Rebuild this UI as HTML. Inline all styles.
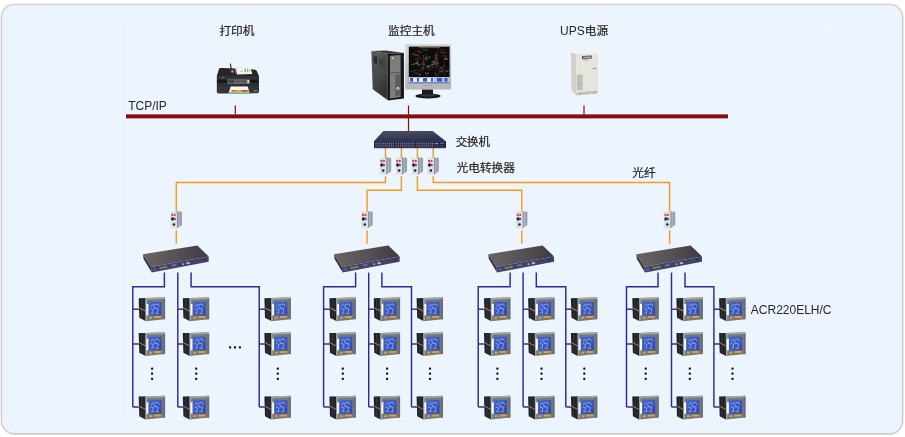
<!DOCTYPE html>
<html lang="zh-CN">
<head>
<meta charset="utf-8">
<title>电力监控系统网络结构图</title>
<style>
html,body{margin:0;padding:0;background:#fff;}
body{width:905px;height:437px;overflow:hidden;}
svg{display:block;}
text{font-family:"Liberation Sans","Noto Sans CJK SC",sans-serif;font-size:12px;fill:#2b2626;}
.c{font-size:11.7px;stroke:#2b2626;stroke-width:0.22px;}
</style>
</head>
<body>
<svg width="905" height="437" viewBox="0 0 905 437">
<defs>
<filter id="soft" x="-5%" y="-5%" width="110%" height="110%"><feGaussianBlur stdDeviation="0.55"/></filter>
<linearGradient id="gSide" x1="0" y1="0" x2="1" y2="0"><stop offset="0" stop-color="#737a92"/><stop offset="0.4" stop-color="#b2b7c6"/><stop offset="0.7" stop-color="#9299ac"/><stop offset="1" stop-color="#a8adbc"/></linearGradient>
<linearGradient id="gScreen" x1="0" y1="0" x2="1" y2="1"><stop offset="0" stop-color="#4666cc"/><stop offset="1" stop-color="#2e48ae"/></linearGradient>
<linearGradient id="gHubTop" x1="0" y1="0" x2="1" y2="0"><stop offset="0" stop-color="#696565"/><stop offset="0.55" stop-color="#545054"/><stop offset="1" stop-color="#3e3a40"/></linearGradient>
<linearGradient id="gSwTop" x1="0" y1="0" x2="0.3" y2="1"><stop offset="0" stop-color="#4e5266"/><stop offset="1" stop-color="#2e3248"/></linearGradient>
<linearGradient id="gTower" x1="0" y1="0" x2="0.4" y2="1"><stop offset="0" stop-color="#5a5c5c"/><stop offset="0.6" stop-color="#474949"/><stop offset="1" stop-color="#333535"/></linearGradient>
<linearGradient id="gMon" x1="0" y1="0" x2="0" y2="1"><stop offset="0" stop-color="#d8d9dc"/><stop offset="1" stop-color="#b4b6ba"/></linearGradient>

<g id="meter">
 <polygon points="0.1,1.7 7.2,1.5 7.2,24.6 0.7,21.3" fill="#1f2326"/>
 <polygon points="2.4,1.7 3.6,1.7 3.6,22.8 2.4,22.2" fill="#33373b"/>
 <polygon points="4.9,1.6 5.8,1.6 5.8,23.9 4.9,23.5" fill="#2f3337"/>
 <polygon points="0.1,10.7 7.2,14.1 7.2,15.2 0.1,11.7" fill="#a3865a"/>
 <polygon points="6.7,1.5 26.5,0.8 26.5,22.7 7,24.7" fill="#767a7f"/>
 <polygon points="6.9,1.6 26.3,0.9 26.3,2.5 6.9,3.2" fill="#a2a6aa"/>
 <polygon points="6.9,3 8.4,3 8.4,23.6 7.1,24.4" fill="#a4a8ac"/>
 <polygon points="24.6,2.6 26.4,2.5 26.4,22.6 24.6,22.8" fill="#696d72"/>
 <rect x="7.8" y="7.4" width="2.1" height="11.4" fill="#f6f8fa"/>
 <rect x="10.1" y="5.3" width="13" height="13.6" fill="url(#gScreen)"/>
 <path d="M12.4 9.5l2-1.6 1.6 1.4M16.6 8l2.8-.6 1.2 2.2M12.2 12.2l2.6.8-.6 2.6M16.2 11.4l3.6 1-1 3.4M12.6 16.6h2.2M17 16.8l3 .2M15.2 10.2l1.6 2.2" fill="none" stroke="#9db4f4" stroke-width="0.8" stroke-linecap="round"/>
 <polygon points="10.8,20.5 13.4,20.3 13.4,22.1 10.8,22.3" fill="#f0a21e"/>
 <polygon points="15.8,19.8 22.5,19.5 22.5,21.3 15.8,21.6" fill="#f0a21e"/>
</g>

<g id="conv">
 <polygon points="5.8,0.3 10.9,0.9 10.9,14.2 5.8,17.7" fill="url(#gSide)"/>
 <rect x="-0.6" y="0.8" width="6.5" height="16.6" fill="#dedee6"/>
 <rect x="0.2" y="3" width="4.2" height="2" fill="#cf3346"/>
 <rect x="2" y="3" width="0.8" height="2" fill="#f0d8dc"/>
 <circle cx="1.6" cy="8" r="1.7" fill="#1c1c20"/>
 <rect x="2" y="7" width="2.6" height="2" fill="#55555c"/>
 <circle cx="2.9" cy="13.6" r="1.3" fill="#2c2c32"/>
</g>

<g id="hub">
 <polygon points="-0.3,10.1 54.1,1.2 65.4,12.3 7.6,22.8" fill="url(#gHubTop)"/>
 <polygon points="7.6,22.8 65.4,12.3 65.4,17.5 8.4,28.4" fill="#434368"/>
 <polygon points="-0.3,10.1 7.6,22.8 8.4,28.4 0.2,14.6" fill="#34323e"/>
 <rect x="9.6" y="24.6" width="3" height="2" fill="#5264b4" transform="rotate(-10.5 9.6 24.6)"/>
 <rect x="16" y="23" width="8" height="2" fill="#807d52" transform="rotate(-10.5 16 23)"/>
 <rect x="28.5" y="20.6" width="4.5" height="1.8" fill="#6b72b2" transform="rotate(-10.5 28.5 20.6)"/>
 <rect x="39" y="19.2" width="1.5" height="1.6" fill="#bcc0de" transform="rotate(-10.5 39 19.2)"/>
 <rect x="43" y="18.4" width="3.4" height="1.7" fill="#b4b8d8" transform="rotate(-10.5 43 18.4)"/>
 <circle cx="60.8" cy="15.4" r="1.3" fill="#30304c"/>
</g>
</defs>

<rect x="1.4" y="4.4" width="901.3" height="429.3" rx="13" ry="13" fill="#ebf3fd" stroke="#cdcdcd" stroke-width="1.4"/>
<path d="M14 434.3H889.5a13 13 0 0 0 13-13V20" fill="none" stroke="#c6c6c6" stroke-width="1" opacity="0.5"/>
<rect x="126.5" y="24.5" width="704" height="395" fill="#ecf4fd" stroke="#f1f7fe" stroke-width="1"/>
<g id="bus">
<rect x="126" y="114.5" width="602" height="3.9" fill="#7e1014"/>
<rect x="126" y="114.1" width="602" height="0.9" fill="#b0503c" opacity="0.75"/>
<path d="M235.3 105.6V114.5M408.5 105.6V131.5M584 105.6V114.5" stroke="#7e1014" stroke-width="1.2" fill="none"/>
</g>
<g fill="none" stroke="#f69c12" stroke-width="1.4" stroke-linejoin="miter">
<path d="M385.5 147.5V158"/>
<path d="M401.4 147.5V158"/>
<path d="M417.4 147.5V158"/>
<path d="M433.2 147.5V158"/>
<path d="M385.5 176.2V182.5H176.3V211.8"/>
<path d="M401.4 176.2V190.3H367.1V211.8"/>
<path d="M417.4 176.2V190.3H521.8V211.8"/>
<path d="M433.2 176.2V182.5H669.6V211.8"/>
<path d="M176.3 230.2V243.8"/>
<path d="M367.1 230.2V243.8"/>
<path d="M521.8 230.2V243.8"/>
<path d="M669.6 230.2V243.8"/>
</g>
<g fill="none" stroke="#2f2996" stroke-width="1.45" stroke-linejoin="miter">
<path d="M164.4 272.6V286.8H132.8V407"/>
<path d="M177.8 272.6V407"/>
<path d="M191.1 272.6V286.8H259.2V407"/>
<path d="M132.8 309.2H139.3"/>
<path d="M132.8 344H139.3"/>
<path d="M132.8 407H139.3"/>
<path d="M177.8 309.2H184.3"/>
<path d="M177.8 344H184.3"/>
<path d="M177.8 407H184.3"/>
<path d="M259.2 309.2H265.7"/>
<path d="M259.2 344H265.7"/>
<path d="M259.2 407H265.7"/>
<path d="M355.6 272.6V286.8H323.6V407"/>
<path d="M368.7 272.6V407"/>
<path d="M381.9 272.6V286.8H411.5V407"/>
<path d="M323.6 309.2H330.1"/>
<path d="M323.6 344H330.1"/>
<path d="M323.6 407H330.1"/>
<path d="M368.7 309.2H375.2"/>
<path d="M368.7 344H375.2"/>
<path d="M368.7 407H375.2"/>
<path d="M411.5 309.2H418"/>
<path d="M411.5 344H418"/>
<path d="M411.5 407H418"/>
<path d="M510.1 272.6V286.8H478.2V407"/>
<path d="M523.1 272.6V407"/>
<path d="M536.3 272.6V286.8H565.8V407"/>
<path d="M478.2 309.2H484.7"/>
<path d="M478.2 344H484.7"/>
<path d="M478.2 407H484.7"/>
<path d="M523.1 309.2H529.6"/>
<path d="M523.1 344H529.6"/>
<path d="M523.1 407H529.6"/>
<path d="M565.8 309.2H572.3"/>
<path d="M565.8 344H572.3"/>
<path d="M565.8 407H572.3"/>
<path d="M658 272.6V286.8H626.5V407"/>
<path d="M671.5 272.6V407"/>
<path d="M685 272.6V286.8H713.9V407"/>
<path d="M626.5 309.2H633"/>
<path d="M626.5 344H633"/>
<path d="M626.5 407H633"/>
<path d="M671.5 309.2H678"/>
<path d="M671.5 344H678"/>
<path d="M671.5 407H678"/>
<path d="M713.9 309.2H720.4"/>
<path d="M713.9 344H720.4"/>
<path d="M713.9 407H720.4"/>
</g>
<g filter="url(#soft)">
<use href="#meter" x="138.6" y="296.5"/>
<use href="#meter" x="138.6" y="331.4"/>
<use href="#meter" x="138.6" y="394.9"/>
<use href="#meter" x="182.7" y="296.5"/>
<use href="#meter" x="182.7" y="331.4"/>
<use href="#meter" x="182.7" y="394.9"/>
<use href="#meter" x="264.3" y="296.5"/>
<use href="#meter" x="264.3" y="331.4"/>
<use href="#meter" x="264.3" y="394.9"/>
<use href="#meter" x="329.3" y="296.5"/>
<use href="#meter" x="329.3" y="331.4"/>
<use href="#meter" x="329.3" y="394.9"/>
<use href="#meter" x="373.6" y="296.5"/>
<use href="#meter" x="373.6" y="331.4"/>
<use href="#meter" x="373.6" y="394.9"/>
<use href="#meter" x="416.5" y="296.5"/>
<use href="#meter" x="416.5" y="331.4"/>
<use href="#meter" x="416.5" y="394.9"/>
<use href="#meter" x="483.9" y="296.5"/>
<use href="#meter" x="483.9" y="331.4"/>
<use href="#meter" x="483.9" y="394.9"/>
<use href="#meter" x="528" y="296.5"/>
<use href="#meter" x="528" y="331.4"/>
<use href="#meter" x="528" y="394.9"/>
<use href="#meter" x="570.8" y="296.5"/>
<use href="#meter" x="570.8" y="331.4"/>
<use href="#meter" x="570.8" y="394.9"/>
<use href="#meter" x="632.2" y="296.5"/>
<use href="#meter" x="632.2" y="331.4"/>
<use href="#meter" x="632.2" y="394.9"/>
<use href="#meter" x="676.3" y="296.5"/>
<use href="#meter" x="676.3" y="331.4"/>
<use href="#meter" x="676.3" y="394.9"/>
<use href="#meter" x="719" y="296.5"/>
<use href="#meter" x="719" y="331.4"/>
<use href="#meter" x="719" y="394.9"/>
<use href="#conv" x="380.3" y="157"/>
<use href="#conv" x="396.2" y="157"/>
<use href="#conv" x="412.2" y="157"/>
<use href="#conv" x="428" y="157"/>
<use href="#conv" x="171.1" y="210.9"/>
<use href="#conv" x="361.9" y="210.9"/>
<use href="#conv" x="516.6" y="210.9"/>
<use href="#conv" x="664.4" y="210.9"/>
<use href="#hub" x="143.3" y="244.2"/>
<use href="#hub" x="334.3" y="244.2"/>
<use href="#hub" x="488.6" y="244.2"/>
<use href="#hub" x="636.6" y="244.2"/>
<g id="switch">
 <polygon points="383.3,131.1 432.8,131.1 445.8,141.2 374,141.2" fill="url(#gSwTop)"/>
 <rect x="374" y="141" width="72" height="7.1" fill="#1e2234"/>
 <rect x="374" y="141" width="72" height="1.1" fill="#2a3784"/>
 <rect x="374" y="147.3" width="72" height="0.8" fill="#2e3c8c"/>
 <g fill="#777b86">

<rect x="375.4" y="142.7" width="1.2" height="1.8"/><rect x="375.4" y="145" width="1.2" height="1.7" opacity="0.8"/>
<rect x="377.35" y="142.7" width="1.2" height="1.8"/><rect x="377.35" y="145" width="1.2" height="1.7" opacity="0.8"/>
<rect x="379.3" y="142.7" width="1.2" height="1.8"/><rect x="379.3" y="145" width="1.2" height="1.7" opacity="0.8"/>
<rect x="381.25" y="142.7" width="1.2" height="1.8"/><rect x="381.25" y="145" width="1.2" height="1.7" opacity="0.8"/>
<rect x="383.2" y="142.7" width="1.2" height="1.8"/><rect x="383.2" y="145" width="1.2" height="1.7" opacity="0.8"/>
<rect x="385.15" y="142.7" width="1.2" height="1.8"/><rect x="385.15" y="145" width="1.2" height="1.7" opacity="0.8"/>
<rect x="387.1" y="142.7" width="1.2" height="1.8"/><rect x="387.1" y="145" width="1.2" height="1.7" opacity="0.8"/>
<rect x="389.05" y="142.7" width="1.2" height="1.8"/><rect x="389.05" y="145" width="1.2" height="1.7" opacity="0.8"/>
<rect x="391" y="142.7" width="1.2" height="1.8"/><rect x="391" y="145" width="1.2" height="1.7" opacity="0.8"/>
<rect x="392.95" y="142.7" width="1.2" height="1.8"/><rect x="392.95" y="145" width="1.2" height="1.7" opacity="0.8"/>
<rect x="395.9" y="142.7" width="1.2" height="1.8"/><rect x="395.9" y="145" width="1.2" height="1.7" opacity="0.8"/>
<rect x="397.85" y="142.7" width="1.2" height="1.8"/><rect x="397.85" y="145" width="1.2" height="1.7" opacity="0.8"/>
<rect x="399.8" y="142.7" width="1.2" height="1.8"/><rect x="399.8" y="145" width="1.2" height="1.7" opacity="0.8"/>
<rect x="401.75" y="142.7" width="1.2" height="1.8"/><rect x="401.75" y="145" width="1.2" height="1.7" opacity="0.8"/>
<rect x="403.7" y="142.7" width="1.2" height="1.8"/><rect x="403.7" y="145" width="1.2" height="1.7" opacity="0.8"/>
<rect x="405.65" y="142.7" width="1.2" height="1.8"/><rect x="405.65" y="145" width="1.2" height="1.7" opacity="0.8"/>
<rect x="407.6" y="142.7" width="1.2" height="1.8"/><rect x="407.6" y="145" width="1.2" height="1.7" opacity="0.8"/>
<rect x="409.55" y="142.7" width="1.2" height="1.8"/><rect x="409.55" y="145" width="1.2" height="1.7" opacity="0.8"/>
<rect x="411.5" y="142.7" width="1.2" height="1.8"/><rect x="411.5" y="145" width="1.2" height="1.7" opacity="0.8"/>
<rect x="413.45" y="142.7" width="1.2" height="1.8"/><rect x="413.45" y="145" width="1.2" height="1.7" opacity="0.8"/>
<rect x="416.4" y="142.7" width="1.2" height="1.8"/><rect x="416.4" y="145" width="1.2" height="1.7" opacity="0.8"/>
<rect x="418.35" y="142.7" width="1.2" height="1.8"/><rect x="418.35" y="145" width="1.2" height="1.7" opacity="0.8"/>
<rect x="420.3" y="142.7" width="1.2" height="1.8"/><rect x="420.3" y="145" width="1.2" height="1.7" opacity="0.8"/>
<rect x="422.25" y="142.7" width="1.2" height="1.8"/><rect x="422.25" y="145" width="1.2" height="1.7" opacity="0.8"/>
<rect x="424.2" y="142.7" width="1.2" height="1.8"/><rect x="424.2" y="145" width="1.2" height="1.7" opacity="0.8"/>
<rect x="426.15" y="142.7" width="1.2" height="1.8"/><rect x="426.15" y="145" width="1.2" height="1.7" opacity="0.8"/>
<rect x="428.1" y="142.7" width="1.2" height="1.8"/><rect x="428.1" y="145" width="1.2" height="1.7" opacity="0.8"/>
<rect x="430.05" y="142.7" width="1.2" height="1.8"/><rect x="430.05" y="145" width="1.2" height="1.7" opacity="0.8"/>
<rect x="432" y="142.7" width="1.2" height="1.8"/><rect x="432" y="145" width="1.2" height="1.7" opacity="0.8"/>
</g><rect x="434.5" y="143" width="4" height="1.2" fill="#8a90b0"/><rect x="440" y="142.8" width="4.6" height="1.3" fill="#5064c0"/><rect x="434.5" y="145.2" width="10" height="1.2" fill="#3a3f58"/>
</g>
<g id="printer">
 <polygon points="229.8,63.6 230.8,63.4 232,69.6 230.8,69.8" fill="#242426"/>
 <path d="M220.4 68 L254.6 69.8 Q256 70 256.6 71 L259 76.6 L259 91.6 Q259 93.2 257.2 93.3 L218.8 93.6 Q216.8 93.6 216.8 91.8 L216.8 76.6 L219 69.4 Q219.4 68 220.4 68Z" fill="#333436"/>
 <path d="M220.4 68 L254.6 69.8 Q256 70 256.6 71 L259 76.6 L216.8 76.6 L219 69.4 Q219.4 68 220.4 68Z" fill="#28282a"/>
 <rect x="217.2" y="79.6" width="9.6" height="3.4" fill="#161617"/>
 <rect x="250.4" y="79.6" width="7.8" height="3.4" fill="#161617"/>
 <rect x="217" y="84.5" width="41.8" height="1" fill="#29292b"/>
 <polygon points="235,68.8 250.3,67.8 252.4,73.9 237.2,74.4" fill="#f3f4f1"/>
 <rect x="244.4" y="68.6" width="1.5" height="3.8" fill="#74b852"/>
 <rect x="247" y="68.4" width="1.2" height="3.6" fill="#8cc468"/>
 <rect x="249" y="69.6" width="0.9" height="2.4" fill="#9ccc7c"/>
 <rect x="235.2" y="69.6" width="1.1" height="4.2" fill="#4a62b8"/>
 <rect x="240.4" y="70.6" width="2" height="1.2" fill="#a8c890"/>
 <circle cx="232.4" cy="71.4" r="1.7" fill="#8a6a24"/>
 <circle cx="232.4" cy="71.4" r="0.7" fill="#d8b040"/>
 <rect x="227.7" y="79.3" width="22.1" height="4.6" fill="#6c7074"/>
 <rect x="228.6" y="80.2" width="5.6" height="2.6" fill="#3a3d42"/>
 <rect x="235.6" y="80.4" width="11" height="2.2" fill="#50545a"/>
 <rect x="247.4" y="80" width="1.6" height="3" fill="#d8dadc"/>
 <polygon points="230.7,86.5 247.7,86.5 249.8,93.5 228.5,93.5" fill="#f7f7f5"/>
 <polygon points="231.7,90 248.4,90 248.9,91.8 231.2,91.8" fill="#d86a26"/>
 <rect x="236.5" y="90" width="4.5" height="1.8" fill="#e8b432"/>
 <rect x="243.6" y="90" width="2.4" height="1.8" fill="#c83c28"/>
 <polygon points="228.8,92.6 249.6,92.6 249.8,93.6 228.5,93.6" fill="#3a9050"/>
 <rect x="253.6" y="90.5" width="3.6" height="0.9" fill="#a4aac0"/>
 <rect x="221.6" y="76.9" width="2.6" height="0.8" fill="#8a8c90"/>
</g>
<g id="host">
 <polygon points="371.3,51.1 386,50.4 403.9,52.9 387.9,54" fill="#3c3c3d"/>
 <polygon points="371.3,51.1 387.9,54 387.9,100.2 372.7,89.2" fill="url(#gTower)"/>
 <polygon points="373.6,56 377,56.8 377,64 373.6,63" fill="#2a2b2c"/>
 <polygon points="379,58 385,59.2 385,68 379,66.6" fill="#3e4040" opacity="0.8"/>
 <polygon points="387.9,54 403.9,52.9 403.9,98.5 387.9,100.4" fill="#121214"/>
 <polygon points="389.9,55.7 400.6,55 400.6,97.1 389.9,98.4" fill="#7d7e7b"/>
 <polygon points="389.9,72.6 400.6,72 400.6,73 389.9,73.6" fill="#55564f"/>
 <polygon points="395.3,74.8 399.9,74.6 399.9,95.6 395.3,96" fill="#5b5c58"/>
 <circle cx="397.9" cy="88.6" r="1.5" fill="#e3ecfa"/>
 <circle cx="397.9" cy="88.9" r="0.8" fill="#4a78c8"/>
 <circle cx="392.6" cy="58" r="0.9" fill="#d6d6d2"/>
 <rect x="403" y="56.6" width="1" height="1.6" fill="#b03030"/>
 <rect x="405.2" y="44" width="46" height="45.6" rx="1" fill="url(#gMon)"/>
 <rect x="408.8" y="46.6" width="40.8" height="36.6" fill="#0b0b0e"/>
 <rect x="408.8" y="77.2" width="40.8" height="6" fill="#e6ebf6"/><rect x="434" y="77.2" width="15.6" height="4.8" fill="#b4c0e4"/>
 <rect x="408.8" y="82" width="40.8" height="1.2" fill="#6a86d4"/>
 <g fill="#3a5ac0"><rect x="410" y="78" width="3" height="3.6"/><rect x="417" y="78" width="2" height="3.6"/><rect x="423" y="78" width="4" height="3.6"/><rect x="431" y="78" width="2" height="3.6"/><rect x="437" y="78" width="5" height="3.6"/><rect x="444.5" y="78" width="3" height="3.6"/></g>
 <g stroke-width="0.55" fill="none" opacity="0.85">
  <path d="M423.2 50.1h1.3M444.1 65.5h1.4M430.3 65.2h3.0M437.5 64.0v2.6M416.0 59.3h1.7M426.4 72.0v3.9M413.7 63.8h4.3M412.5 54.1h3.3M435.1 55.6h1.8M427.3 66.1v1.8M442.8 69.6v3.2M438.8 68.1h3.7M441.4 69.5h3.8M418.9 56.0v3.3M437.4 73.1h3.2M434.2 60.1h2.2M442.3 52.7h3.4M424.3 61.7v4.4M414.1 73.3h4.1M419.6 49.6v2.4M420.0 70.1h4.2M436.4 63.4h2.8" stroke="#d43a3a"/>
  <path d="M425.1 55.0h1.4M411.8 54.5h1.6M415.2 51.7h3.9M415.9 57.7v3.0M441.1 56.0h2.4M444.5 52.6h2.0M424.3 59.1h2.5M426.7 68.6h1.7M440.0 50.1h4.2M439.8 72.2h1.7M415.4 73.3h3.5M443.4 55.7h2.9M444.9 56.8h2.0" stroke="#b83030"/>
  <path d="M413.7 63.9h1.5M435.2 55.1h2.9M410.4 70.9h2.1M425.1 58.5h4.3M412.4 54.1h2.3M429.2 69.5h1.9M439.0 70.6h1.9M422.2 61.5v3.6M425.6 65.7h4.3M411.0 64.5h3.4M425.6 72.0v2.2M416.2 61.3h3.0M434.9 60.7h2.8M435.2 72.2v2.4M440.2 52.2h2.7M419.1 52.2h3.7M435.4 75.3h2.6M439.5 71.4h4.3M412.4 71.8h2.3M443.8 74.7h1.8M419.7 70.2v1.6M440.0 67.6h2.5" stroke="#38b060"/>
  <path d="M427.1 66.4h3.5M414.7 55.2h4.1M427.2 67.2h1.9M417.0 64.8h3.9M417.7 62.0v2.6M443.8 65.6v1.8M432.6 62.8h2.7M425.5 50.0h2.5M431.6 67.2h1.8M426.0 55.6v4.9" stroke="#d8c840"/>
  <path d="M420.2 58.9h1.3M422.8 65.0h1.9M427.3 56.9h3.7M422.8 49.3h2.1M433.7 58.0h1.6M435.3 58.9h2.2M413.8 70.6h2.8" stroke="#48a8a0"/>
  <path d="M444.1 59.2h3.9M426.8 73.4h2.0M436.3 56.3v1.9M431.4 64.2h4.0M431.7 61.3h2.8M415.3 63.2h2.9M444.4 58.3h1.9M434.6 62.8h3.8M421.5 68.0h3.0M445.3 71.1h3.3M418.8 74.6h2.4" stroke="#e0e0e0"/>
  <path d="M436 52V70M423.5 55V66" stroke="#c03030" stroke-width="0.6"/>
  <path d="M418 48V76M427 48V76M438.5 48V76M444 48V76" stroke="#3a1c28" stroke-width="0.5"/>
  <path d="M419 47.6H440" stroke="#c8b838" stroke-width="0.6"/>
 </g>
 <rect x="422" y="89.6" width="11" height="5.4" fill="#1a1a1c"/>
 <ellipse cx="428" cy="96" rx="12.6" ry="2.5" fill="#18181a"/>
 <ellipse cx="428" cy="95.3" rx="9" ry="1.3" fill="#35353a"/>
 <rect x="424" y="85" width="8" height="0.8" fill="#9a9ca2"/>
</g>
<g id="ups">
 <polygon points="571,52.2 593,52 598,53.6 576.2,54.4" fill="#f3f3ee"/>
 <polygon points="571,52.2 576.2,54.4 576.2,95.5 571.4,90.8" fill="#d2d2c8"/>
 <polygon points="576.2,54.4 598,53.6 598,93.3 576.2,95.5" fill="#e5e5db"/>
 <polygon points="582,55.9 591.8,55.5 591.8,58.5 582,58.9" fill="#4c4e52"/>
 <polygon points="583,56.9 590.8,56.6 590.8,57.5 583,57.8" fill="#e8e8e8"/>
 <rect x="583" y="59.6" width="5.6" height="0.7" fill="#8c8e90"/>
 <rect x="576.8" y="74.8" width="5.8" height="15.4" fill="#b4b5ad"/>
 <g stroke="#d8d8d0" stroke-width="0.5"><path d="M576.8 76.6h5.8M576.8 78.4h5.8M576.8 80.2h5.8M576.8 82h5.8M576.8 83.8h5.8M576.8 85.6h5.8M576.8 87.4h5.8M576.8 89.2h5.8"/></g>
 <rect x="592.6" y="67.9" width="3.6" height="1.2" fill="#7fa6b8"/>
 <polygon points="576.2,92.6 598,90.6 598,93.3 576.2,95.5" fill="#c4c4ba"/>
 <rect x="579" y="93.4" width="2.4" height="1.3" fill="#a8a8a0"/><rect x="586" y="92.8" width="2.4" height="1.2" fill="#a8a8a0"/><rect x="593" y="92.2" width="2.4" height="1.2" fill="#a8a8a0"/>
</g>
</g>
<g fill="#141414">
<rect x="151" y="367.5" width="2.2" height="2.2" rx="0.7"/>
<rect x="151" y="372.6" width="2.2" height="2.2" rx="0.7"/>
<rect x="151" y="377.7" width="2.2" height="2.2" rx="0.7"/>
<rect x="195.1" y="367.5" width="2.2" height="2.2" rx="0.7"/>
<rect x="195.1" y="372.6" width="2.2" height="2.2" rx="0.7"/>
<rect x="195.1" y="377.7" width="2.2" height="2.2" rx="0.7"/>
<rect x="276.7" y="367.5" width="2.2" height="2.2" rx="0.7"/>
<rect x="276.7" y="372.6" width="2.2" height="2.2" rx="0.7"/>
<rect x="276.7" y="377.7" width="2.2" height="2.2" rx="0.7"/>
<rect x="341.7" y="367.5" width="2.2" height="2.2" rx="0.7"/>
<rect x="341.7" y="372.6" width="2.2" height="2.2" rx="0.7"/>
<rect x="341.7" y="377.7" width="2.2" height="2.2" rx="0.7"/>
<rect x="386" y="367.5" width="2.2" height="2.2" rx="0.7"/>
<rect x="386" y="372.6" width="2.2" height="2.2" rx="0.7"/>
<rect x="386" y="377.7" width="2.2" height="2.2" rx="0.7"/>
<rect x="428.9" y="367.5" width="2.2" height="2.2" rx="0.7"/>
<rect x="428.9" y="372.6" width="2.2" height="2.2" rx="0.7"/>
<rect x="428.9" y="377.7" width="2.2" height="2.2" rx="0.7"/>
<rect x="496.3" y="367.5" width="2.2" height="2.2" rx="0.7"/>
<rect x="496.3" y="372.6" width="2.2" height="2.2" rx="0.7"/>
<rect x="496.3" y="377.7" width="2.2" height="2.2" rx="0.7"/>
<rect x="540.4" y="367.5" width="2.2" height="2.2" rx="0.7"/>
<rect x="540.4" y="372.6" width="2.2" height="2.2" rx="0.7"/>
<rect x="540.4" y="377.7" width="2.2" height="2.2" rx="0.7"/>
<rect x="583.2" y="367.5" width="2.2" height="2.2" rx="0.7"/>
<rect x="583.2" y="372.6" width="2.2" height="2.2" rx="0.7"/>
<rect x="583.2" y="377.7" width="2.2" height="2.2" rx="0.7"/>
<rect x="644.6" y="367.5" width="2.2" height="2.2" rx="0.7"/>
<rect x="644.6" y="372.6" width="2.2" height="2.2" rx="0.7"/>
<rect x="644.6" y="377.7" width="2.2" height="2.2" rx="0.7"/>
<rect x="688.7" y="367.5" width="2.2" height="2.2" rx="0.7"/>
<rect x="688.7" y="372.6" width="2.2" height="2.2" rx="0.7"/>
<rect x="688.7" y="377.7" width="2.2" height="2.2" rx="0.7"/>
<rect x="731.4" y="367.5" width="2.2" height="2.2" rx="0.7"/>
<rect x="731.4" y="372.6" width="2.2" height="2.2" rx="0.7"/>
<rect x="731.4" y="377.7" width="2.2" height="2.2" rx="0.7"/>
<rect x="229" y="346.2" width="2.2" height="2.2" rx="0.7"/>
<rect x="233.9" y="346.2" width="2.2" height="2.2" rx="0.7"/>
<rect x="238.8" y="346.2" width="2.2" height="2.2" rx="0.7"/>
</g>
<text class="c" x="219.4" y="34.7">打印机</text>
<text class="c" x="388" y="34.7">监控主机</text>
<text x="560" y="34.7">UPS<tspan class="c">电源</tspan></text>
<text x="128.2" y="109.8">TCP/IP</text>
<text class="c" x="455.7" y="146.3" style="font-size:11.45px">交换机</text>
<text class="c" x="456.5" y="171.9">光电转换器</text>
<text class="c" x="632.2" y="177.2">光纤</text>
<text x="750.8" y="314.1">ACR220ELH/C</text>
</svg>
</body>
</html>
